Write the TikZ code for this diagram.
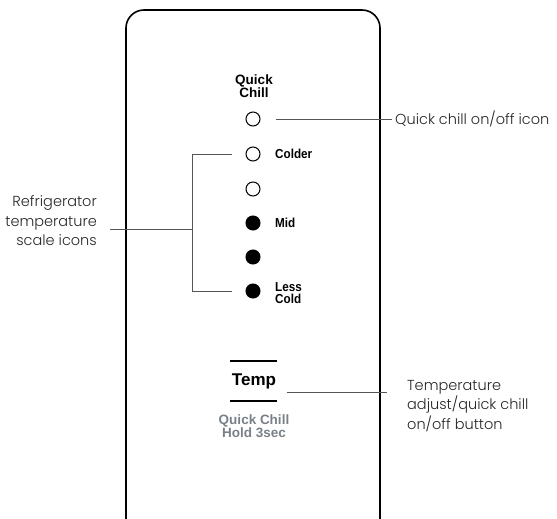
\documentclass[tikz,border=0pt]{standalone}
\usepackage{fontspec}
\setmainfont{Poppins}[UprightFont=* Light]
\newfontfamily\panelfont{Liberation Sans}
\newfontfamily\condfont[FakeStretch=0.9]{Liberation Sans}
\usetikzlibrary{positioning}
\definecolor{leadgray}{HTML}{555555}
\definecolor{hintgray}{HTML}{7A8088}

\begin{document}
\begin{tikzpicture}[x=1pt,y=-1pt,
  lamp/.style={circle,draw,line width=1pt,minimum size=14pt,inner sep=0pt},
  lampon/.style={lamp,fill=black},
  tag/.style={anchor=west,inner sep=0pt,align=left,
    font=\condfont\bfseries\fontsize{13}{12}\selectfont},
  note/.style={inner sep=0pt,text=black!85,
    font=\fontsize{14.5}{19.5}\selectfont},
  lead/.style={draw=leadgray,line width=0.8pt}]
\useasboundingbox (0,0) rectangle (557,519);
\clip (0,0) rectangle (557,519);

% panel
\draw[line width=1.6pt,rounded corners=18pt] (126,10) rectangle (380,545);

% quick chill + scale lamps
\node[font=\panelfont\bfseries\fontsize{13.5}{12}\selectfont,align=center,inner sep=0pt] (qc) at (254,86) {Quick\\Chill};
\node[lamp] (l0) at (253,119) {};
\node[lamp] (l1) at (253,154) {};
\node[lamp] (l2) at (253,189) {};
\node[lampon] (l3) at (253,223) {};
\node[lampon] (l4) at (253,257) {};
\node[lampon] (l5) at (253,291) {};
\node[tag] (colder) at (275,154) {Colder};
\node[tag] (mid) at (275,223) {Mid};
\node[tag] (less) at (275,293) {Less\\Cold};

% temp button
\node[font=\panelfont\bfseries\fontsize{17}{17}\selectfont,inner sep=0pt] (temp) at (254,381) {Temp};
\draw[line width=1.2pt] (230,361) -- (277,361)
                        (230,401) -- (277,401);
\node[font=\panelfont\bfseries\fontsize{13.5}{13.5}\selectfont,text=hintgray,align=center,inner sep=0pt] (hold) at (254,426) {Quick Chill\\Hold 3sec};

% callouts
\node[note,anchor=west] (qcnote) at (395,119) {Quick chill on/off icon};
\node[note,anchor=east,align=right] (scalenote) at (97,221) {Refrigerator\\temperature\\scale icons};
\node[note,anchor=west,align=left] (tempnote) at (407,406) {Temperature\\adjust/quick chill\\on/off button};

\coordinate (bt) at (192,154);
\coordinate (bb) at (192,291);
\coordinate (bm) at (192,229);
\coordinate (tl) at (287,392);

\draw[lead] ([xshift=15pt]l0.east) -- ([xshift=-3pt]qcnote.west);
\draw[lead] ([xshift=-14pt]l1.west) -- (bt) -- (bb) -- ([xshift=-14pt]l5.west);
\draw[lead] (bm) -- ([xshift=13pt]scalenote.east |- bm);
\draw[lead] (tl) -- ([xshift=-20pt]tempnote.west |- tl);
\end{tikzpicture}
\end{document}
